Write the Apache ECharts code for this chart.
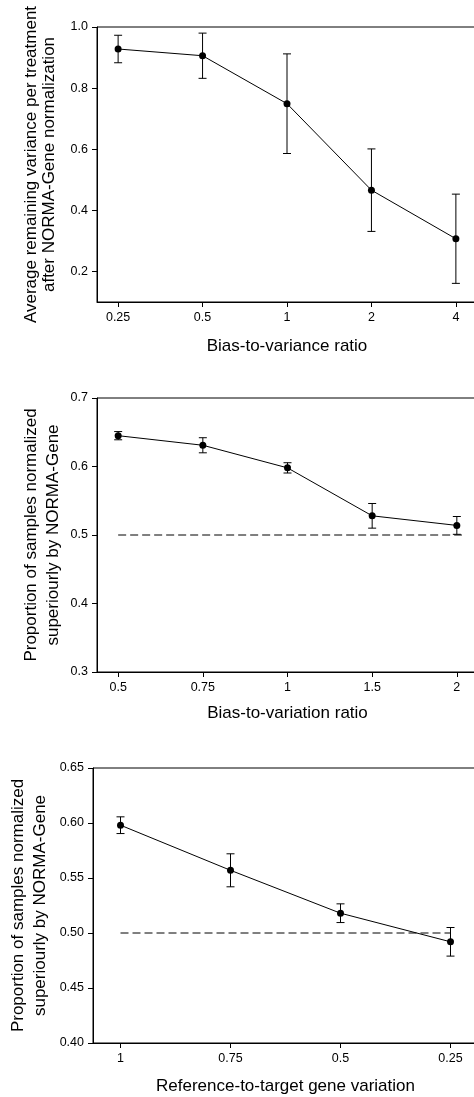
<!DOCTYPE html>
<html><head><meta charset="utf-8">
<script src="https://cdn.jsdelivr.net/npm/echarts@6/dist/echarts.min.js"></script>
<style>html,body{margin:0;padding:0;background:#fff}#c{width:474px;height:1097px}</style>
</head><body><div id="c"></div>
<script>
// Panel 1
const p1Labels = ['0.25', '0.5', '1', '2', '4'];
const p1Mean = [0.928, 0.906, 0.749, 0.466, 0.307];
const p1Err = [0.045, 0.074, 0.163, 0.135, 0.146];
const p1YTicks = [0.2, 0.4, 0.6, 0.8, 1.0];
const p1XTitle = 'Bias-to-variance ratio';
const p1YTitle = 'Average remaining variance per treatment\nafter NORMA-Gene normalization';

// Panel 2
const p2Labels = ['0.5', '0.75', '1', '1.5', '2'];
const p2Mean = [0.645, 0.631, 0.598, 0.528, 0.514];
const p2Err = [0.006, 0.011, 0.0075, 0.018, 0.013];
const p2YTicks = [0.3, 0.4, 0.5, 0.6, 0.7];
const p2RefX = [0, 4.06];
const p2XTitle = 'Bias-to-variation ratio';
const p2YTitle = 'Proportion of samples normalized\nsuperiourly by NORMA-Gene';

// Panel 3
const p3Labels = ['1', '0.75', '0.5', '0.25'];
const p3Mean = [0.598, 0.557, 0.518, 0.492];
const p3Err = [0.0076, 0.015, 0.0085, 0.013];
const p3YTicks = [0.40, 0.45, 0.50, 0.55, 0.60, 0.65];
const p3RefX = [0, 3];
const p3XTitle = 'Reference-to-target gene variation';
const p3YTitle = 'Proportion of samples normalized\nsuperiourly by NORMA-Gene';

const refValue = 0.5;

const FONT = '"Liberation Sans", Arial, sans-serif';
const BLACK = '#000';

function xAxisDef(gi, labels, title, nameGap) {
  const idx = labels.map((_, i) => i);
  return {
    type: 'value', gridIndex: gi, min: -0.25, max: labels.length - 0.75,
    splitLine: { show: false },
    axisLine: { show: true, onZero: false, lineStyle: { color: BLACK, width: 1 } },
    axisTick: { show: true, customValues: idx, length: 5, lineStyle: { color: BLACK, width: 1 } },
    axisLabel: { customValues: idx, formatter: v => labels[Math.round(v)], color: BLACK, fontSize: 12.5, fontFamily: FONT, margin: 9 },
    name: title, nameLocation: 'middle', nameGap: nameGap, nameMoveOverlap: false,
    nameTextStyle: { color: BLACK, fontSize: 17, fontFamily: FONT }
  };
}
function yAxisDef(gi, ticks, min, max, dec, title, nameGap, lh) {
  return {
    type: 'value', gridIndex: gi, min: min, max: max,
    splitLine: { show: false },
    axisLine: { show: true, onZero: false, lineStyle: { color: BLACK, width: 1 } },
    axisTick: { show: true, customValues: ticks, length: 5, lineStyle: { color: BLACK, width: 1 } },
    axisLabel: { customValues: ticks, formatter: v => v.toFixed(dec), color: BLACK, fontSize: 12.5, fontFamily: FONT, margin: 9 },
    name: title, nameLocation: 'middle', nameGap: nameGap, nameRotate: 90, nameMoveOverlap: false,
    nameTextStyle: { color: BLACK, fontSize: 17, lineHeight: lh, fontFamily: FONT, align: 'center' }
  };
}
function lineSeries(i, mean) {
  return {
    type: 'line', xAxisIndex: i, yAxisIndex: i, data: mean.map((m, k) => [k, m]),
    symbol: 'circle', symbolSize: 7, showSymbol: true,
    itemStyle: { color: BLACK }, lineStyle: { color: BLACK, width: 1 }, z: 5, silent: true
  };
}
function errSeries(i, mean, err) {
  return {
    type: 'custom', xAxisIndex: i, yAxisIndex: i, z: 4, silent: true,
    data: mean.map((m, k) => [k, m - err[k], m + err[k]]),
    renderItem(params, api) {
      const x = api.value(0);
      const lo = api.coord([x, api.value(1)]);
      const hi = api.coord([x, api.value(2)]);
      const w = 4;
      const st = { stroke: BLACK, lineWidth: 1 };
      return { type: 'group', children: [
        { type: 'line', shape: { x1: lo[0], y1: lo[1], x2: hi[0], y2: hi[1] }, style: st },
        { type: 'line', shape: { x1: lo[0] - w, y1: lo[1], x2: lo[0] + w, y2: lo[1] }, style: st },
        { type: 'line', shape: { x1: hi[0] - w, y1: hi[1], x2: hi[0] + w, y2: hi[1] }, style: st }
      ] };
    }
  };
}
function refSeries(i, xs) {
  return {
    type: 'line', xAxisIndex: i, yAxisIndex: i, data: xs.map(x => [x, refValue]),
    symbol: 'none', lineStyle: { color: BLACK, width: 1, type: [8, 4] }, z: 2, silent: true
  };
}

const gridBase = { show: true, borderColor: BLACK, borderWidth: 1, backgroundColor: 'transparent', containLabel: false, outerBoundsMode: 'none' };

const option = {
  animation: false,
  backgroundColor: '#fff',
  grid: [
    Object.assign({ left: 97, top: 27, width: 380, height: 275 }, gridBase),
    Object.assign({ left: 97, top: 398, width: 381, height: 274 }, gridBase),
    Object.assign({ left: 93, top: 768, width: 385, height: 275 }, gridBase)
  ],
  xAxis: [
    xAxisDef(0, p1Labels, p1XTitle, 36),
    xAxisDef(1, p2Labels, p2XTitle, 33),
    xAxisDef(2, p3Labels, p3XTitle, 35)
  ],
  yAxis: [
    yAxisDef(0, p1YTicks, 0.1, 1.0, 1, p1YTitle, 39, 18),
    yAxisDef(1, p2YTicks, 0.3, 0.7, 1, p2YTitle, 32, 22.5),
    yAxisDef(2, p3YTicks, 0.4, 0.65, 2, p3YTitle, 41, 22.5)
  ],
  series: [
    errSeries(0, p1Mean, p1Err), lineSeries(0, p1Mean),
    refSeries(1, p2RefX), errSeries(1, p2Mean, p2Err), lineSeries(1, p2Mean),
    refSeries(2, p3RefX), errSeries(2, p3Mean, p3Err), lineSeries(2, p3Mean)
  ]
};
const chart = echarts.init(document.getElementById('c'), null, { renderer: 'canvas' });
chart.setOption(option);
</script></body></html>
